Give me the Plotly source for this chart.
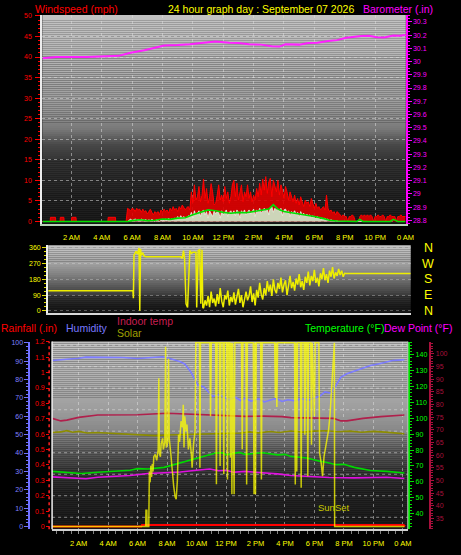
import numpy as np
import plotly.graph_objects as go

W, H = 461, 555

# ---------------- DATA ----------------
tick_hours = [2, 4, 6, 8, 10, 12, 14, 16, 18, 20, 22, 24]
tick_labels = ["2 AM", "4 AM", "6 AM", "8 AM", "10 AM", "12 PM", "2 PM", "4 PM", "6 PM", "8 PM", "10 PM", "0 AM"]

# top panel: barometer (in)
baro_hours = [0.1, 1.0, 3.0, 5.1, 5.9, 6.8, 7.5, 8.1, 9.0, 9.8, 10.7, 11.5, 12.4, 13.0, 13.7, 14.5, 15.2, 15.7, 16.1, 17.0,
              17.6, 18.2, 18.9, 19.5, 20.1, 20.6, 21.1, 21.6, 22.1, 22.6, 23.2, 23.6, 24.0]
baro_values = [30.025, 30.035, 30.035, 30.043, 30.067, 30.085, 30.105, 30.122, 30.125, 30.13, 30.142, 30.152, 30.142,
               30.14, 30.13, 30.128, 30.115, 30.113, 30.13, 30.128, 30.14, 30.142, 30.155, 30.162, 30.18, 30.188,
               30.193, 30.195, 30.183, 30.182, 30.197, 30.195, 30.2]

# top panel: wind gust (mph)
gust_night_hours = [0.08, 0.6, 0.62, 0.95, 0.97, 1.25, 1.27, 1.5, 1.52, 2.0, 2.02, 2.3, 2.32, 4.4, 4.42, 4.9, 4.92, 5.6]
gust_night_values = [0, 0, 1, 1, 0, 0, 1, 1, 0, 0, 1, 1, 0, 0, 1, 1, 0, 0]
gust_day_start, gust_day_step = 5.7, 0.1
gust_day_values = [
    3.2, 3.0, 2.6, 3.2, 3.0, 2.4, 3.2, 2.8, 3.0, 2.2,
    3.0, 2.4, 2.6, 1.8, 2.4, 3.0, 2.2, 1.6, 2.4, 2.0,
    2.4, 1.6, 2.8, 2.2, 3.0, 2.4, 2.8, 2.0, 3.2, 2.6,
    3.6, 2.8, 3.2, 2.4, 3.6, 3.0, 4.0, 3.2, 2.8, 3.4,
    3.6, 2.8, 7.2, 4.6, 8.9, 5.2, 6.0, 8.5, 4.8, 6.4,
    10.3, 5.6, 8.0, 4.4, 6.0, 9.2, 7.2, 4.0, 4.4, 6.4,
    8.9, 5.2, 6.4, 4.8, 8.5, 5.6, 7.2, 4.4, 6.0, 8.9,
    10.0, 6.0, 9.3, 5.2, 7.6, 8.9, 4.8, 7.2, 6.0, 8.9,
    5.6, 7.2, 4.8, 6.4, 5.2, 8.0, 6.0, 9.3, 6.4, 10.3,
    7.6, 10.9, 6.8, 9.6, 10.5, 6.0, 10.0, 8.5, 7.2, 10.0,
    6.4, 8.9, 7.6, 5.6, 8.5, 7.2, 5.2, 7.2, 6.0, 4.8,
    6.4, 4.4, 5.6, 4.0, 6.0, 4.8, 3.6, 5.2, 4.4, 4.8,
    3.6, 5.6, 4.0, 3.2, 4.4, 3.2, 3.6, 2.8, 3.2, 3.6,
    2.8, 6.4, 3.2, 2.4, 2.8, 2.0, 2.4, 1.6, 2.4, 2.0,
    1.6, 1.2, 1.6, 1.2, 1.2, 0.0, 1.2, 1.2, 1.6, 1.2,
    0.0, 0.0, 0.0, 1.2, 1.6, 1.2, 1.6, 1.2, 1.6,
    1.2, 1.6, 1.2, 0.0, 1.2, 1.2, 1.6, 1.2, 1.2, 1.6,
    1.2, 0.0, 1.2, 1.2, 1.6, 1.2, 1.2, 1.2, 0.0, 1.2,
    1.2, 1.6, 1.2, 1.2, 1.2]

# top panel: wind speed (mph)
speed_start, speed_step = 5.7, 0.1
speed_values = [
    0.0, 0.4, 0.6, 0.2, 0.5, 0.6, 0.3, 0.5, 0.2, 0.6,
    0.4, 0.3, 0.5, 0.1, 0.4, 0.2, 0.5, 0.3, 0.0, 0.4,
    0.2, 0.0, 0.3, 0.5, 0.2, 0.6, 0.3, 0.8, 0.4, 0.6,
    0.3, 0.8, 0.5, 1.2, 0.6, 1.4, 0.8, 1.2, 0.6, 1.0,
    1.4, 1.2, 2.2, 0.8, 2.6, 1.4, 2.0, 2.6, 1.2, 2.4,
    2.8, 1.6, 2.4, 0.8, 2.6, 2.0, 1.2, 2.6, 1.8, 2.4,
    2.2, 0.8, 2.6, 1.6, 2.4, 2.8, 1.2, 2.2, 2.6, 1.8,
    2.6, 1.4, 2.8, 2.2, 0.8, 2.6, 2.0, 2.8, 1.6, 2.4,
    2.8, 1.8, 2.6, 3.0, 1.2, 2.8, 2.2, 3.2, 2.0, 2.8,
    3.2, 2.4, 3.0, 1.6, 3.4, 3.6, 2.2, 3.2, 2.8, 3.0,
    2.4, 3.2, 1.4, 2.8, 3.0, 2.2, 2.6, 1.2, 2.4, 2.0,
    2.6, 1.8, 2.2, 0.8, 2.4, 1.6, 2.0, 1.2, 1.8, 1.4,
    1.6, 0.8, 1.4, 1.0, 0.6, 1.2, 0.8, 0.4, 0.8, 0.6,
    0.8, 0.4, 0.6, 0.2, 0.4, 0.2, 0.0, 0.2, 0.0, 0.0,
    0.0, 0.0, 0.0, 0.0, 0.0, 0.0, 0.0, 0.0, 0.0, 0.0,
    0.0, 0.0, 0.0, 0.0, 0.0, 0.0, 0.0, 0.0, 0.0]

# top panel: average wind (mph)
avg_hours = [0.1, 5.7, 6.0, 6.5, 7.0, 7.5, 8.0, 8.5, 9.0, 9.5, 10.0, 10.5, 11.0, 11.5, 12.0, 12.5, 13.0, 13.5, 14.0,
             14.5, 15.0, 15.3, 15.6, 16.0, 16.5, 17.0, 17.5, 18.0, 18.5, 19.0, 19.5, 20.0, 20.8, 21.0, 21.2, 23.0,
             23.2, 23.5, 24.0]
avg_values = [0, 0, 0.2, 0.4, 0.2, 0.3, 0.6, 0.5, 0.8, 0.9, 1.6, 2.2, 2.8, 2.6, 2.2, 2.0, 2.2, 2.1, 2.4, 2.7, 3.0,
              4.1, 3.0, 2.4, 2.1, 1.9, 1.6, 1.2, 0.8, 0.3, 0.1, 0.0, 0.0, 0.5, 0.0, 0.0, 0.5, 0.0, 0.0]

# middle panel: wind direction (degrees)
dir_hours_a = [0.07, 5.65, 5.68, 5.72, 5.85, 5.95, 6.05, 6.1, 6.15, 6.2, 6.3, 6.4, 6.55, 8.8, 8.9, 8.98, 9.05,
               9.15, 9.25, 9.4, 9.5, 9.6, 9.8, 9.85, 9.95, 10.05, 10.12, 10.2, 10.25]
dir_values_a = [115, 115, 72, 318, 340, 325, 360, 0, 355, 318, 330, 312, 309, 309, 300, 345, 300, 40, 19, 345,
                330, 335, 335, 19, 345, 350, 40, 350, 20]
dir_noisy_start, dir_noisy_step = 10.3, 0.1
dir_noisy_values = [
    15, 60, 30, 85, 20, 110, 45, 70, 25, 95,
    40, 130, 55, 20, 90, 65, 115, 30, 80, 50,
    105, 35, 75, 125, 45, 90, 20, 70, 110, 60,
    85, 140, 50, 100, 30, 120, 75, 160, 95, 65,
    130, 90, 170, 110, 150, 85, 180, 120, 100, 160,
    125, 190, 105, 150, 175, 90, 140, 200, 130, 165,
    115, 185, 150, 210, 135, 170, 120, 195, 160, 225,
    145, 200, 170, 235, 160, 190, 140, 215, 180, 245,
    175, 210, 160, 230, 195, 250, 185, 220, 200, 240,
    205, 230, 195, 215]
dir_tail_hours = [19.7, 23.95]
dir_tail_values = [214, 214]
dir_ticks = [0, 90, 180, 270, 360]
dir_compass = ["N", "E", "S", "W", "N"]

# bottom panel
hum_hours = [0.2, 1.0, 2.0, 2.5, 3.5, 5.0, 6.0, 7.0, 7.7, 8.3, 8.9, 9.2, 9.6, 10.1, 10.5, 11.1, 11.5, 12.2, 12.6,
             13.0, 13.3, 13.7, 14.2, 14.6, 14.9, 15.4, 15.8, 16.2, 16.7, 17.1, 17.6, 18.0, 18.4, 18.7, 19.1, 19.4,
             19.8, 20.2, 20.9, 21.4, 21.8, 22.4, 22.9, 23.3, 23.7, 24.1]
hum_values = [90.4, 90.8, 91.6, 92.2, 92.2, 92.0, 91.5, 91.9, 92.4, 91.2, 89.7, 88.5, 84.3, 77.0, 76.0, 70.8, 71.8,
              69.0, 70.5, 68.6, 69.9, 68.2, 69.5, 67.8, 68.6, 69.8, 68.1, 69.0, 68.4, 69.6, 68.8, 70.0, 71.2, 73.3,
              72.6, 76.0, 81.4, 83.2, 85.0, 86.3, 87.7, 88.6, 89.5, 90.4, 90.6, 90.8]

ihum_hours = [0.2, 0.8, 1.2, 1.6, 2.0, 2.6, 3.2, 4.0, 4.8, 5.6, 6.4, 7.2, 8.0, 9.0, 10.0, 11.0, 12.0, 13.0, 13.6,
              14.2, 15.0, 15.6, 16.4, 17.2, 18.0, 18.8, 19.6, 20.4, 21.2, 22.0, 22.8, 23.6, 24.1]
ihum_values = [51.2, 51.5, 52.2, 51.3, 51.8, 50.9, 51.2, 50.8, 50.4, 50.1, 49.6, 49.5, 49.8, 50.0, 50.3, 50.6, 50.5,
               50.9, 51.5, 51.0, 51.7, 51.2, 52.0, 51.4, 51.9, 52.1, 51.6, 51.9, 51.3, 51.8, 51.4, 50.8, 50.5]

itemp_hours = [0.2, 0.5, 0.8, 1.2, 2.0, 3.3, 5.0, 6.0, 8.0, 10.0, 11.0, 11.8, 13.3, 14.5, 15.8, 16.4, 17.5, 18.5,
               19.3, 19.8, 20.2, 21.3, 22.5, 24.1]
itemp_values = [74.5, 74.0, 73.5, 73.8, 74.9, 75.8, 75.9, 75.9, 76.5, 76.0, 75.8, 75.4, 75.3, 75.4, 75.2, 74.8,
                74.7, 74.6, 74.5, 73.5, 73.5, 74.5, 75.2, 75.8]

temp_hours = [0.2, 1.0, 2.2, 3.3, 4.5, 5.5, 6.0, 6.7, 7.8, 8.7, 8.9, 10.0, 10.3, 11.3, 11.8, 12.0, 12.9, 13.3, 14.2,
              14.5, 15.5, 16.0, 16.4, 17.3, 17.5, 18.4, 18.7, 19.5, 20.0, 20.7, 21.8, 22.9, 24.1]
temp_values = [66.6, 66.0, 65.2, 66.0, 66.5, 67.3, 68.3, 68.1, 69.1, 71.4, 71.9, 75.0, 75.6, 78.1, 78.3, 77.0, 78.5,
               77.3, 78.1, 78.3, 77.0, 77.3, 76.0, 75.2, 75.0, 72.9, 72.5, 70.8, 71.0, 69.1, 67.1, 66.6, 65.6]

dew_hours = [0.2, 1.0, 2.5, 3.3, 5.5, 6.7, 7.8, 8.9, 10.0, 10.9, 11.5, 12.0, 12.5, 13.3, 14.0, 14.7, 15.5, 16.4,
             17.2, 18.0, 19.0, 20.7, 21.8, 22.9, 24.1]
dew_values = [63.1, 62.8, 61.9, 62.9, 64.0, 65.2, 65.6, 66.2, 67.3, 68.1, 67.0, 67.3, 66.0, 66.6, 66.0, 65.6, 65.0,
              64.0, 63.6, 62.9, 62.7, 62.5, 62.8, 62.9, 62.1]

rain_hours = [0.2, 6.25, 6.3, 24.05, 24.15]
rain_values = [0.0, 0.0, 0.01, 0.01, 0.0]

solar_hours = [0.2, 6.55, 6.57, 6.63, 6.65, 6.76, 6.8, 6.85, 6.9, 6.95,
               7.0, 7.05, 7.1, 7.2, 7.3, 7.4, 7.44, 7.48, 7.55, 7.6,
               7.7, 7.75, 7.85, 7.9, 7.95, 8.05, 8.1, 8.15, 8.25, 8.35,
               8.45, 8.55, 8.62, 8.7, 8.78, 8.85, 8.95, 9.05, 9.1, 9.15,
               9.2, 9.3, 9.35, 9.45, 9.55, 9.65, 9.7, 9.8, 9.9, 9.95,
               10.2, 10.23, 10.27, 10.9, 10.95, 11.0, 11.3, 11.35, 11.4, 11.55,
               11.6, 11.65, 11.8, 11.85, 11.9, 12.05, 12.1, 12.15, 12.25, 12.3,
               12.35, 12.4, 12.45, 12.55, 12.6, 13.05, 13.1, 13.15, 13.35, 13.4,
               13.45, 13.85, 13.9, 13.95, 14.0, 14.05, 14.35, 14.4, 14.45, 15.3,
               15.35, 15.4, 15.45, 15.5, 16.65, 16.7, 16.75, 16.8, 16.85, 17.05,
               17.1, 17.15, 17.3, 17.35, 17.4, 17.5, 17.55, 17.6, 17.75, 17.8,
               17.85, 18.0, 18.05, 18.3, 18.35, 18.45, 18.55, 18.65, 18.8, 18.95,
               19.05, 19.15, 19.25, 19.3, 19.35, 19.37, 24.1]
solar_values = [0, 0, 88, 88, 0, 0, 300, 240, 330, 270,
                340, 300, 380, 392, 360, 420, 807, 400, 380, 450,
                480, 420, 460, 978, 430, 460, 915, 480, 400, 300,
                220, 160, 149, 250, 500, 460, 573, 540, 663, 430,
                600, 520, 555, 420, 480, 392, 320, 450, 520, 1000,
                1000, 320, 1000, 1000, 600, 1000, 1000, 230, 1000, 1000,
                330, 1000, 1000, 284, 1000, 1000, 256, 1000, 1000, 375,
                1000, 176, 1000, 175, 1000, 1000, 420, 1000, 1000, 229,
                1000, 1000, 175, 1000, 175, 1000, 1000, 256, 1000, 1000,
                700, 1000, 650, 1000, 1000, 229, 1000, 300, 1000, 1000,
                211, 1000, 1000, 500, 1000, 1000, 274, 1000, 1000, 445,
                1000, 600, 1000, 1000, 400, 350, 274, 380, 450, 520,
                600, 750, 900, 1000, 1000, 0, 0]
sunset_hour = 19.35

baro_ticks = [28.8, 28.9, 29.0, 29.1, 29.2, 29.3, 29.4, 29.5, 29.6, 29.7, 29.8, 29.9, 30.0, 30.1, 30.2, 30.3]
rain_ticks = [0, 0.1, 0.2, 0.3, 0.4, 0.5, 0.6, 0.7, 0.8, 0.9, 1.0, 1.1, 1.2]

# ---------------- FIGURE ----------------
gust_hours = gust_night_hours + [round(gust_day_start + i * gust_day_step, 2) for i in range(len(gust_day_values))]
gust_values = gust_night_values + gust_day_values
speed_hours = [round(speed_start + i * speed_step, 2) for i in range(len(speed_values))]
dir_hours = dir_hours_a + [round(dir_noisy_start + i * dir_noisy_step, 2) for i in range(len(dir_noisy_values))] + dir_tail_hours
dir_values = dir_values_a + dir_noisy_values + dir_tail_values

FONT = "Liberation Sans"
fig = go.Figure()

fig.add_trace(go.Scatter(x=gust_hours, y=gust_values, mode="lines", line=dict(color="#ff0000", width=1),
                         fill="tozeroy", fillcolor="rgba(225,0,0,0.9)", xaxis="x", yaxis="y"))
fig.add_trace(go.Scatter(x=speed_hours, y=speed_values, mode="lines", line=dict(color="#e4f6e4", width=0.8),
                         fill="tozeroy", fillcolor="rgba(205,236,205,0.9)", xaxis="x", yaxis="y"))
fig.add_trace(go.Scatter(x=avg_hours, y=avg_values, mode="lines", line=dict(color="#00e000", width=1.6),
                         xaxis="x", yaxis="y"))
fig.add_trace(go.Scatter(x=baro_hours, y=baro_values, mode="lines", line=dict(color="#ff20ff", width=2),
                         xaxis="x", yaxis="y2"))

fig.add_trace(go.Scatter(x=dir_hours, y=dir_values, mode="lines", line=dict(color="#eeee00", width=1.5),
                         xaxis="x2", yaxis="y3"))

fig.add_trace(go.Scatter(x=hum_hours, y=hum_values, mode="lines", line=dict(color="#7c7cff", width=1.6),
                         xaxis="x3", yaxis="y5"))
fig.add_trace(go.Scatter(x=ihum_hours, y=ihum_values, mode="lines", line=dict(color="#8c8c00", width=1.6),
                         xaxis="x3", yaxis="y5"))
fig.add_trace(go.Scatter(x=itemp_hours, y=itemp_values, mode="lines", line=dict(color="#b0204c", width=1.6),
                         xaxis="x3", yaxis="y8"))
fig.add_trace(go.Scatter(x=temp_hours, y=temp_values, mode="lines", line=dict(color="#00d800", width=1.6),
                         xaxis="x3", yaxis="y7"))
fig.add_trace(go.Scatter(x=dew_hours, y=dew_values, mode="lines", line=dict(color="#e010e0", width=1.6),
                         xaxis="x3", yaxis="y7"))
fig.add_trace(go.Scatter(x=rain_hours, y=rain_values, mode="lines", line=dict(color="#ff0000", width=2),
                         xaxis="x3", yaxis="y6"))
fig.add_trace(go.Scatter(x=solar_hours, y=solar_values, mode="lines", line=dict(color="#ffff00", width=1.5),
                         opacity=0.75, xaxis="x3", yaxis="y9"))

# ---------------- styling ----------------
def px_x(x):
    return x / W

def px_y(y):
    return 1 - y / H

TOP = dict(l=43, r=413, t=12, b=223)
MID = dict(l=49, r=418, t=244, b=312)
BOT = dict(l=53, r=415, t=341, b=530)

shapes = []

def gradient(p, stops, step=2):
    y = p["t"]
    fs = [s[0] for s in stops]
    gs = [s[1] for s in stops]
    while y < p["b"]:
        y2 = min(y + step, p["b"])
        f = ((y + y2) / 2 - p["t"]) / (p["b"] - p["t"])
        g = int(round(np.interp(f, fs, gs)))
        shapes.append(dict(type="rect", xref="paper", yref="paper", x0=px_x(p["l"]), x1=px_x(p["r"]),
                           y0=px_y(y2), y1=px_y(y), fillcolor=f"rgb({g},{g},{g})", line=dict(width=0),
                           layer="below"))
        y = y2

gradient(TOP, [(0, 195), (0.2, 182), (0.45, 152), (0.55, 118), (0.62, 72), (0.7, 50), (0.85, 36), (1.0, 26)])
gradient(MID, [(0, 200), (0.25, 165), (0.45, 125), (0.6, 90), (0.75, 55), (0.9, 30), (1.0, 22)])
gradient(BOT, [(0, 195), (0.2, 176), (0.37, 156), (0.5, 132), (0.58, 96), (0.68, 60), (0.8, 38), (1.0, 26)])

for gy in [344.7, 366.3, 388, 409.7, 431.3, 453, 474.7, 496.3, 518]:
    shapes.append(dict(type="line", xref="paper", yref="paper", x0=px_x(BOT["l"]), x1=px_x(BOT["r"]),
                       y0=px_y(gy), y1=px_y(gy), line=dict(color="rgba(225,225,225,0.55)", width=1, dash="dot"),
                       layer="below"))

# borders
shapes.append(dict(type="line", xref="paper", yref="paper", x0=px_x(50), x1=px_x(50), y0=px_y(BOT["b"]),
                   y1=px_y(BOT["t"]), line=dict(color="#ff2020", width=1.5, dash="dot")))
shapes.append(dict(type="line", xref="paper", yref="paper", x0=px_x(53), x1=px_x(53), y0=px_y(BOT["b"]),
                   y1=px_y(BOT["t"]), line=dict(color="#f0f0f0", width=1.5)))
shapes.append(dict(type="line", xref="paper", yref="paper", x0=px_x(415), x1=px_x(415), y0=px_y(BOT["b"]),
                   y1=px_y(BOT["t"]), line=dict(color="#c8c8c8", width=1)))

grid_col = "rgba(225,225,225,0.5)"
tick_font = lambda c, s=7: dict(family=FONT, size=s, color=c)

layout = dict(
    width=W, height=H, autosize=False, margin=dict(l=0, r=0, t=0, b=0),
    paper_bgcolor="#000000", plot_bgcolor="rgba(0,0,0,0)", showlegend=False,
    shapes=shapes,
    xaxis=dict(domain=[px_x(TOP["l"]), px_x(TOP["r"])], range=[0.078, 24.026], anchor="y",
               tickmode="array", tickvals=tick_hours, ticktext=tick_labels, tickfont=tick_font("#ffff00", 7.5),
               ticks="", ticklabelstandoff=5, showgrid=True, gridcolor=grid_col, griddash="dot",
               showline=True, linecolor="#b8d4b8", linewidth=2, zeroline=False),
    yaxis=dict(domain=[px_y(TOP["b"]), px_y(TOP["t"])], range=[-0.72, 50.24], anchor="x",
               tickmode="linear", tick0=0, dtick=5, tickfont=tick_font("#ff0000"),
               ticks="outside", ticklen=5, tickcolor="#ff0000", ticklabelstandoff=2,
               minor=dict(dtick=1, ticks="outside", ticklen=2, tickcolor="#ff0000", showgrid=False),
               showgrid=True, gridcolor=grid_col, griddash="dot", showline=True, linecolor="#ececec",
               linewidth=2, zeroline=False),
    yaxis2=dict(overlaying="y", side="right", anchor="x", range=[28.7697, 30.3525],
                tickmode="array", tickvals=baro_ticks, ticktext=[f"{v:g}" for v in baro_ticks],
                tickfont=tick_font("#ff00ff"), ticks="outside", ticklen=4, tickcolor="#ff00ff",
                minor=dict(dtick=0.025, tick0=28.8, ticks="outside", ticklen=2, tickcolor="#ff00ff", showgrid=False),
                showgrid=False, showline=True, linecolor="#ff00ff", linewidth=1.5, zeroline=False),
    xaxis2=dict(domain=[px_x(MID["l"]), px_x(MID["r"])], range=[0.065, 23.95], anchor="y3",
                showticklabels=False, ticks="", showgrid=False, showline=True, linecolor="#d8d8d8",
                linewidth=2, zeroline=False),
    yaxis3=dict(domain=[px_y(MID["b"]), px_y(MID["t"])], range=[-11.4, 375.4], anchor="x2",
                tickmode="array", tickvals=dir_ticks, ticktext=[str(v) for v in dir_ticks],
                tickfont=tick_font("#ffff00"), ticks="outside", ticklen=4, tickcolor="#e0e000",
                minor=dict(dtick=22.5, tick0=0, ticks="outside", ticklen=2, tickcolor="#e0e000", showgrid=False),
                showgrid=True, gridcolor="rgba(225,225,225,0.35)", griddash="dot", showline=True,
                linecolor="#f0f0f0", linewidth=2, zeroline=False),
    xaxis3=dict(domain=[px_x(BOT["l"]), px_x(BOT["r"])], range=[0.2, 24.333], anchor="y5",
                tickmode="array", tickvals=tick_hours, ticktext=tick_labels, tickfont=tick_font("#ffff00", 7.5),
                ticks="outside", ticklen=3, tickcolor="#909090", ticklabelstandoff=3,
                minor=dict(dtick=0.5, tick0=0, ticks="outside", ticklen=3, tickcolor="#808080", showgrid=False),
                showgrid=True, gridcolor=grid_col, griddash="dot",
                showline=True, linecolor="#d0d0d0", linewidth=2, zeroline=False),
    yaxis5=dict(domain=[px_y(BOT["b"]), px_y(BOT["t"])], range=[-1.46, 100.7], anchor="free", position=px_x(30),
                side="left", tickmode="linear", tick0=0, dtick=10, tickfont=tick_font("#8080ff"),
                ticks="outside", ticklen=4, tickcolor="#7070ff",
                minor=dict(dtick=2, ticks="outside", ticklen=2, tickcolor="#7070ff", showgrid=False),
                showgrid=False, showline=True, linecolor="#7070ff", linewidth=2, zeroline=False),
    yaxis6=dict(overlaying="y5", anchor="free", position=px_x(50), side="left", range=[-0.0174, 1.2019],
                tickmode="array", tickvals=rain_ticks, ticktext=[f"{v:g}" for v in rain_ticks],
                tickfont=tick_font("#ff0000"), ticks="outside", ticklen=3, tickcolor="#ff0000",
                showgrid=False, showline=False, zeroline=False),
    yaxis7=dict(overlaying="y5", anchor="free", position=px_x(416.7), side="right", range=[30.2, 148.3],
                tickmode="linear", tick0=40, dtick=10, tickfont=tick_font("#00ff00"),
                ticks="outside", ticklen=4, tickcolor="#00e000",
                minor=dict(dtick=2, ticks="outside", ticklen=2, tickcolor="#00e000", showgrid=False),
                showgrid=False, showline=True, linecolor="#00e000", linewidth=1.5, zeroline=False),
    yaxis8=dict(overlaying="y5", anchor="free", position=px_x(438), side="right", range=[30.8, 104.8],
                tickmode="linear", tick0=35, dtick=5, tickfont=tick_font("#a8103c"),
                ticks="outside", ticklen=3, tickcolor="#a8103c",
                minor=dict(dtick=1, ticks="outside", ticklen=2, tickcolor="#a8103c", showgrid=False),
                showgrid=False, showline=True, linecolor="#a8103c", linewidth=2, zeroline=False),
    yaxis9=dict(overlaying="y5", anchor="free", position=px_x(30), range=[-14.6, 1007], visible=False),
)
fig.update_layout(**layout)

def title(text, x, y, color, size=10.5):
    fig.add_annotation(text=text, xref="paper", yref="paper", x=px_x(x), y=px_y(y), xanchor="left",
                       yanchor="middle", showarrow=False, font=dict(family=FONT, size=size, color=color),
                       borderpad=0)

title("Windspeed (mph)", 35, 6, "#ff0000")
title("24 hour graph day : September 07 2026", 170, 6, "#ffff00")
title("Barometer (.in)", 368, 6, "#ff00ff")
title("Rainfall (.in)", 0, 327, "#ff0000")
title("Humidity", 66, 327, "#7878ff")
title("Indoor temp", 118, 320, "#c81e50")
title("Solar", 118, 332, "#a0a000")
title("Temperature (°F)", 309, 327, "#00ff00")
title("Dew Point (°F)", 390, 327, "#ff00ff")

# compass letters for the direction scale (right of middle panel)
for val, letter in zip(dir_ticks, dir_compass):
    fig.add_annotation(text=letter, xref="paper", yref="y3", x=px_x(436), y=val, xanchor="center",
                       yanchor="middle", showarrow=False, font=dict(family=FONT, size=12.5, color="#ffff00"))

fig.add_annotation(text="SunSet", xref="x3", yref="paper", x=sunset_hour, y=px_y(507.7), xanchor="center",
                   yanchor="middle", showarrow=False, font=dict(family=FONT, size=9.5, color="#c8c800"))

fig.write_html("out.html", config={"displayModeBar": False},
               post_script="document.body.style.margin='0';document.body.style.overflow='hidden';")
